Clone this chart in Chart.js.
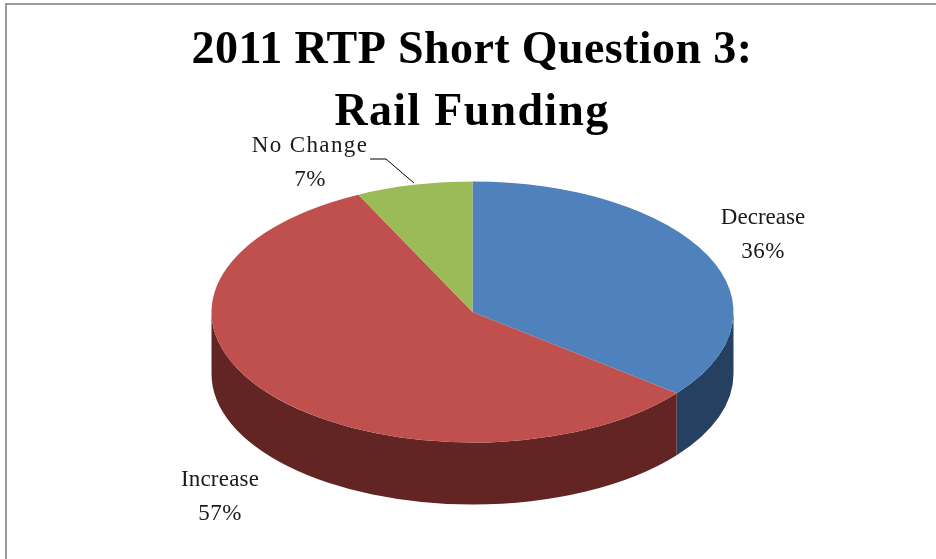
<!DOCTYPE html>
<html lang="en">
<head>
<meta charset="UTF-8">
<title>2011 RTP Short Question 3: Rail Funding</title>
<script src="https://cdn.jsdelivr.net/npm/chart.js"></script>
<style>
    html, body { margin: 0; padding: 0; background: #fff; overflow: hidden; }
    #wrap { position: relative; width: 936px; height: 559px; }
    #frame { position: absolute; left: 5px; top: 3px; width: 940px; height: 570px; border: 2px solid #9a9a9a; box-sizing: border-box; }
</style>
</head>
<body>
<div id="wrap">
    <div id="frame"></div>
    <canvas id="pie" width="936" height="559"></canvas>
</div>
<script>
const categories = ["Decrease", "Increase", "No Change"];
const shares = [35.7, 57.1, 7.2];
const topColors = ["#4f81bd", "#c0504d", "#9bbb59"];
const sideColors = ["#254061", "#632523", "#4f6228"];
const titleLines = ["2011 RTP Short Question 3:", "Rail Funding"];

const SQUASH = 0.5;   // vertical tilt of the pie
const DEPTH = 62;     // height of the side wall in px
const SERIF = '"Liberation Serif", serif';

// label spots, text centre of each label
const labelSpots = [[763, 217], [220, 479], [310, 145]];
const nameSpacing = ["0px", "0.2px", "1.4px"];

// side wall + squashed top, built from the arc elements chart.js lays out
const tiltPlugin = {
    id: "tilt",
    beforeDatasetDraw(chart) {
        const ctx = chart.ctx;
        const arcs = chart.getDatasetMeta(0).data;
        const cx = arcs[0].x, cy = arcs[0].y, r = arcs[0].outerRadius;

        const toY = (y) => cy + (y - cy) * SQUASH;

        // wall: only the part of each slice facing the viewer (0..PI in canvas angles)
        arcs.forEach((arc, i) => {
            const a0 = Math.max(arc.startAngle, 0);
            const a1 = Math.min(arc.endAngle, Math.PI);
            if (a1 <= a0) return;
            ctx.save();
            ctx.beginPath();
            ctx.ellipse(cx, toY(cy), r, r * SQUASH, 0, a0, a1);
            ctx.lineTo(cx + r * Math.cos(a1), toY(cy + r * Math.sin(a1)) + DEPTH);
            ctx.ellipse(cx, toY(cy) + DEPTH, r, r * SQUASH, 0, a1, a0, true);
            ctx.closePath();
            ctx.fillStyle = sideColors[i];
            ctx.fill();
            ctx.restore();
        });

        // top face
        ctx.save();
        ctx.translate(0, cy);
        ctx.scale(1, SQUASH);
        ctx.translate(0, -cy);
        arcs.forEach((arc) => arc.draw(ctx));
        ctx.restore();
        return false;
    },
    afterDraw(chart) {
        const ctx = chart.ctx;
        ctx.save();
        ctx.fillStyle = "#000";
        ctx.textAlign = "center";
        ctx.textBaseline = "alphabetic";

        ctx.font = "bold 46px " + SERIF;
        ctx.letterSpacing = "0.4px";
        ctx.fillText(titleLines[0], 472, 63);
        ctx.letterSpacing = "1.3px";
        ctx.fillText(titleLines[1], 472, 125);

        ctx.font = "23px " + SERIF;
        ctx.fillStyle = "#1a1a1a";
        categories.forEach((name, i) => {
            const [x, y] = labelSpots[i];
            ctx.letterSpacing = nameSpacing[i];
            ctx.fillText(name, x, y + 7);
            ctx.letterSpacing = "0.5px";
            ctx.fillText(Math.round(shares[i]) + "%", x, y + 41);
        });
        ctx.letterSpacing = "0px";

        // leader line for No Change
        ctx.strokeStyle = "#000";
        ctx.lineWidth = 1;
        ctx.beginPath();
        ctx.moveTo(370, 159);
        ctx.lineTo(386, 159);
        ctx.lineTo(414, 183);
        ctx.stroke();
        ctx.restore();
    }
};

new Chart(document.getElementById("pie"), {
    type: "pie",
    data: {
        labels: categories,
        datasets: [{
            data: shares,
            backgroundColor: topColors,
            borderWidth: 0
        }]
    },
    options: {
        responsive: false,
        animation: false,
        radius: 261,
        layout: { padding: { left: 9, top: 65 } },
        plugins: {
            legend: { display: false },
            tooltip: { enabled: false }
        }
    },
    plugins: [tiltPlugin]
});
</script>
</body>
</html>
